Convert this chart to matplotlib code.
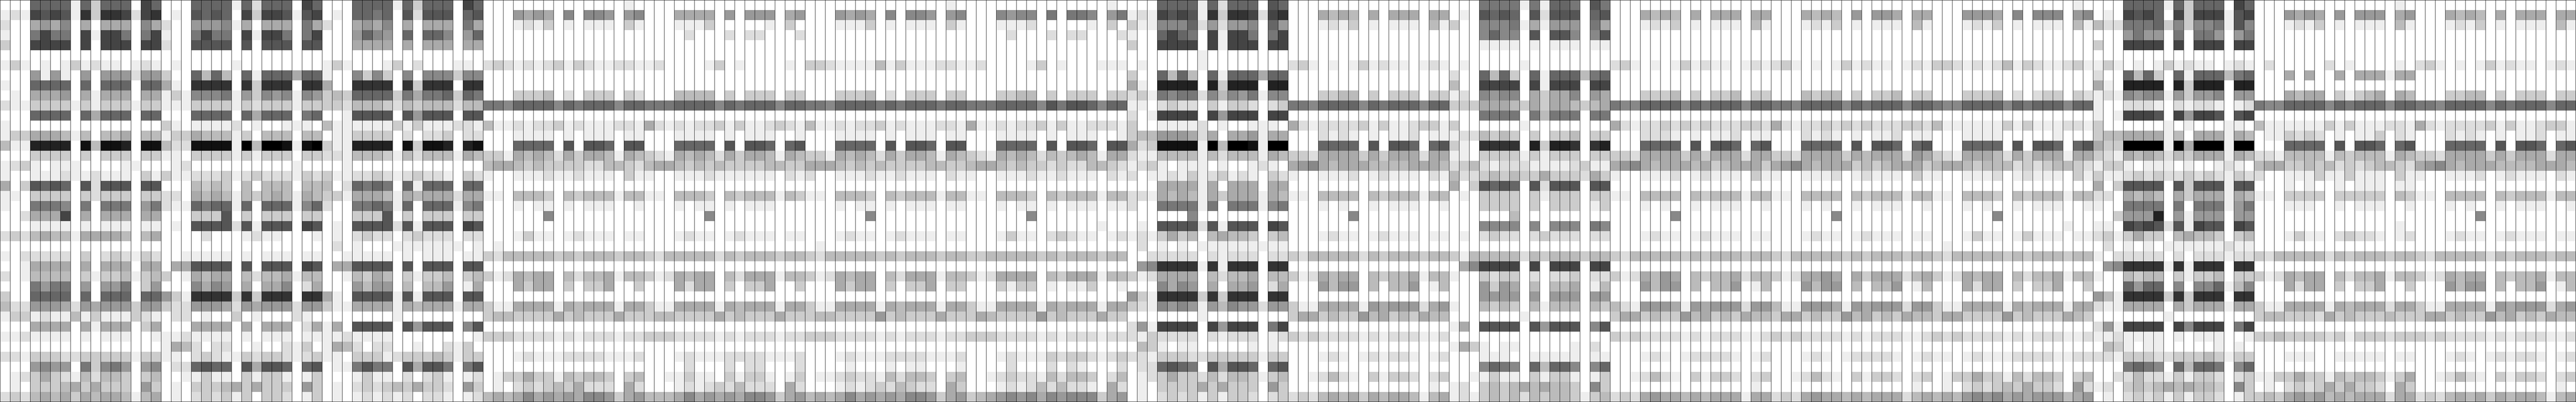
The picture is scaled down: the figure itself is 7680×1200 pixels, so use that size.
import numpy as np
import matplotlib
matplotlib.use("Agg")
import matplotlib.pyplot as plt

# darkness of each cell, hex digit per cell (0 = white, f = black)
# one list per group of 16 columns, 40 rows each
z = "000 0000 0 0 0 000 0 00"
r21 = "000 0007 0 0 0 000 0 00"

block_0 = [
    "000 9999 1 9 3 999 0 b9", "121 baba 1 c 3 ccb 2 bc", "200 5657 0 5 0 555 0 75", "100 8b88 0 b 1 bb8 0 8b",
    "300 bbbb 0 b 0 bbb 0 bb", z, "131 0101 3 1 2 110 1 21", "000 6161 0 6 0 666 2 66",
    "100 9999 0 9 0 999 0 99", "010 5556 0 5 1 555 0 55", "211 3333 1 3 1 333 1 33", "000 9999 0 9 5 999 0 99",
    "100 0000 0 0 0 000 0 00", "133 5554 1 4 0 445 0 44", "411 dddd 0 e 4 eed 0 ee", "000 3333 0 3 0 333 0 33",
    "123 1011 1 0 0 001 1 00", "100 1112 1 1 2 111 0 31", "503 a9a9 0 a 2 aaa 0 aa", "110 3333 0 3 2 333 0 33",
    "100 8887 0 8 0 888 0 68", "002 555b 0 5 0 555 0 55", "000 1111 0 1 0 111 0 11", "232 4544 1 5 5 554 0 45",
    z, "102 2222 0 3 0 232 1 32", "001 5555 0 5 0 555 0 55", "201 4444 0 3 1 334 1 34",
    "000 8688 0 6 0 668 0 36", "300 9999 0 9 0 999 0 99", "422 6665 2 6 5 666 3 66", "133 1211 4 1 3 111 3 21",
    "000 5555 0 5 1 555 0 35", "112 1111 0 1 0 111 0 01", z, "221 3332 2 3 3 333 1 33",
    "000 6766 0 8 3 786 0 67", "012 3532 1 4 2 443 0 34", "010 3334 5 3 5 333 0 63", "232 4545 3 5 4 554 1 45",
]
block_1 = [
    "000 9999 1 9 2 999 0 b9", "010 a9a9 0 b 3 bba 1 ab", "200 6667 1 5 0 555 0 85", "100 8b88 0 b 1 bb8 0 8b",
    "200 aaaa 0 a 0 aaa 0 aa", z, "010 0000 1 0 0 000 0 00", "300 9494 0 9 1 999 5 99",
    "510 cccc 0 c 3 ccc 0 cc", "131 7778 1 6 3 767 1 76", "111 3333 1 3 2 333 1 33", "000 9999 0 9 5 999 0 89",
    "310 1111 2 0 1 001 1 10", "133 5444 1 3 0 444 0 44", "422 eeee 1 f 4 ffe 1 ef", "110 3333 1 3 1 333 0 33",
    "012 0000 0 0 0 000 1 00", "311 2223 1 2 3 222 1 32", "000 4343 0 4 0 444 0 44", "220 5454 1 4 3 454 1 54",
    "211 9899 1 9 0 999 1 79", "000 333a 0 3 0 333 0 33", "010 aaaa 2 a 1 aaa 0 ba", "000 0200 0 1 2 110 0 01",
    z, "001 1111 0 1 0 111 0 11", "055 aaaa 0 a 0 aaa 0 ba", "301 5455 0 4 2 445 1 44",
    "000 7576 0 5 0 557 0 25", "631 cccc 3 c 3 ccc 0 cc", "322 6665 2 6 5 666 2 66", "022 0100 3 0 1 000 2 10",
    "000 5555 0 5 0 555 0 25", "112 1111 0 1 0 111 0 11", "154 2022 0 0 1 002 1 30", "110 2321 1 3 2 332 1 23",
    "022 9a99 0 a 5 aa9 0 9a", "001 1311 0 3 1 331 0 13", "010 3334 5 3 5 333 0 63", "010 2323 1 3 0 332 0 13",
]
block_2 = [
    "000 9999 1 9 3 999 0 b9", "010 9989 0 a 2 aaa 0 9a", "200 5657 0 5 0 555 0 85", "000 6976 0 9 0 997 0 69",
    "000 5555 0 5 0 555 0 55", z, "131 0001 3 0 2 000 1 10", "100 7373 0 7 0 777 3 77",
    "500 cccc 0 c 3 ccc 0 cc", "343 9999 3 8 5 889 3 98", "332 4443 2 4 3 444 2 44", "001 aaaa 0 a 6 aaa 0 aa",
    "411 1111 3 1 3 111 2 21", "011 3333 0 2 0 223 0 22", "311 dddd 0 e 3 eed 0 de", "221 4443 1 4 2 444 1 54",
    "001 0000 0 0 0 000 0 00", "311 2232 1 2 3 221 0 32", "402 9898 0 9 1 999 0 99", "331 5554 1 5 4 555 2 55",
    "200 8898 1 9 0 999 1 78", "000 333a 0 3 0 333 0 33", "010 aaaa 2 a 1 aaa 0 ba", "010 2322 0 2 3 222 0 22",
    "020 1000 1 1 1 111 1 01", "001 1111 0 1 0 111 0 11", "055 aaaa 0 a 0 aaa 0 aa", "001 4354 0 3 1 334 0 34",
    "000 6466 0 4 0 446 0 15", "510 aaaa 1 a 1 aaa 0 aa", "311 5555 1 5 4 555 1 55", "000 0000 1 0 0 000 0 00",
    "150 aaaa 0 a 6 aaa 0 7a", "112 1111 0 0 0 000 0 01", "154 2022 0 0 1 002 1 30", "110 3331 2 3 3 343 1 33",
    "011 8a88 0 a 5 aa8 0 8a", "000 1311 0 2 0 231 0 12", "010 2323 4 3 5 332 0 63", "010 1212 1 2 0 221 0 12",
]
block_3 = [
    "000 0000 0 0 0 000 0 10", "000 6565 0 7 0 776 0 67", "000 1213 0 1 0 111 0 31", z,
    z, z, "232 1212 3 1 3 211 2 21", z,
    z, "000 3334 0 2 0 333 0 32", "887 9999 7 9 8 999 7 99", z,
    "411 2122 3 1 2 111 2 21", "000 1111 0 1 0 111 0 11", "000 9999 0 a 0 aa9 0 aa", "331 5454 2 5 3 554 1 54",
    "455 4343 3 3 3 224 4 32", "100 1112 1 1 2 111 0 31", z, "110 4443 0 4 3 444 1 44",
    "000 1011 0 1 0 111 0 01", r21, z, "000 1311 0 1 2 111 0 11",
    "010 0000 0 0 0 000 0 00", "324 4444 3 4 3 444 3 44", z, "312 5455 0 4 2 445 1 44",
    "000 5355 0 3 0 335 0 03", z, "311 5555 1 5 4 555 1 55", "344 3333 5 3 4 333 5 33",
    z, "333 2222 1 2 1 222 1 22", z, "000 1211 1 2 2 221 1 12",
    z, "013 3533 1 4 3 443 0 34", "010 2323 4 3 5 222 0 52", "454 5756 5 6 5 776 3 56",
]
block_4 = [
    z, "000 5555 0 6 0 666 0 56", "000 1113 0 0 0 001 0 30", "000 0200 0 2 0 220 0 02",
    z, z, "120 0001 3 0 1 000 0 10", z,
    z, "000 4444 0 3 0 333 0 33", "888 9999 7 9 8 999 7 99", z,
    "521 2122 3 1 3 112 3 21", "000 1111 0 1 0 111 0 01", "000 9999 0 a 0 aa9 0 9a", "321 5454 2 5 3 554 1 54",
    "455 4343 4 3 3 334 4 33", "100 1112 1 1 1 111 0 21", z, "110 4443 0 4 3 444 1 43",
    "000 1011 0 1 0 111 0 00", r21, z, "000 1211 0 1 2 111 0 11",
    z, "324 4444 2 4 3 444 3 44", z, "312 5455 0 4 2 555 1 44",
    "000 5255 0 3 0 335 0 03", z, "311 5555 1 5 4 555 1 55", "344 3333 5 3 4 333 5 33",
    z, "333 2222 1 2 1 222 1 22", z, "000 1211 1 2 2 221 1 12",
    "000 0200 0 2 0 220 0 02", "001 1311 0 3 1 331 0 13", "000 1212 3 2 4 222 0 52", "444 5756 5 6 5 776 3 56",
]
block_5 = [
    "000 0000 0 0 0 000 0 10", "000 6565 0 7 0 776 0 67", "000 1113 0 1 0 111 0 31", z,
    z, z, "332 1111 4 1 3 111 2 21", z,
    z, "000 3334 0 2 0 333 0 33", "887 9999 8 9 8 999 8 99", z,
    "411 2122 3 1 2 111 2 21", "000 1111 0 1 0 111 0 11", "000 9999 0 a 0 aa9 0 aa", "331 5454 2 5 3 554 1 54",
    "555 4343 4 3 3 334 4 33", "200 1112 1 1 2 111 0 21", z, "110 4443 0 4 3 444 1 44",
    "000 1011 0 1 0 111 0 11", r21, z, "000 1211 0 1 2 111 0 11",
    "010 0000 0 0 0 000 0 00", "324 4444 3 4 3 444 3 44", z, "312 5455 0 4 2 555 1 44",
    "000 5355 0 3 0 335 0 33", z, "311 5555 1 5 4 555 1 55", "344 3333 6 3 4 333 5 33",
    z, "333 2222 1 2 1 222 1 22", z, "000 1211 1 2 2 221 1 12",
    "000 0100 0 1 0 110 0 01", "011 2322 1 4 2 443 0 34", "000 1212 3 2 4 322 0 53", "454 5756 5 6 5 776 3 56",
]
block_6 = [
    "000 0000 0 0 0 000 0 10", "000 7677 0 8 0 887 0 68", "000 1112 0 0 0 001 0 30", "000 0200 0 2 0 220 0 02",
    z, z, "120 0001 3 0 1 000 1 11", z,
    z, "000 3344 0 3 0 333 0 33", "888 9999 7 a 8 aa9 7 99", z,
    "511 2122 3 1 3 112 2 21", "000 1111 0 1 0 111 0 01", "000 9999 0 a 0 aa9 0 aa", "321 5454 2 4 3 454 1 55",
    "455 4343 3 2 3 224 4 32", "100 1112 1 1 2 111 0 21", z, "110 4443 0 4 3 444 1 44",
    "000 1011 0 1 0 111 0 11", r21, "000 0000 0 0 0 000 1 00", "000 1311 0 2 3 211 0 12",
    z, "334 4444 3 4 3 444 3 44", z, "312 5555 0 4 3 555 1 44",
    "000 3133 0 1 0 113 0 01", z, "311 5555 1 5 4 555 1 55", "354 3333 6 3 4 333 5 33",
    z, "333 2222 1 2 1 222 1 22", z, "000 1211 1 3 2 332 1 23",
    "000 0200 0 2 0 210 0 02", "001 2322 1 4 2 443 0 24", "000 1212 4 2 4 221 0 52", "345 6767 5 7 6 777 3 56",
]
block_7 = [
    "000 9999 1 9 2 999 0 a9", "121 baba 1 c 3 ccb 2 bc", "311 7779 2 6 2 667 0 96", "100 9b98 0 b 1 bb8 0 8b",
    "300 bbbb 0 b 1 bbb 0 bb", "000 0000 1 0 0 000 0 00", "010 0000 1 0 0 000 0 00", "300 9494 0 9 1 999 5 99",
    "510 dddd 0 d 3 ddd 0 dd", "231 8788 2 7 4 768 1 77", "110 2322 0 3 1 332 0 23", "201 bbbb 0 b 6 bbb 0 bb",
    "300 1111 2 0 1 001 1 10", "344 6665 2 5 0 556 1 55", "523 eeee 1 f 4 ffe 1 ff", "211 4444 1 4 2 444 1 54",
    "123 1011 1 0 1 001 2 10", "201 1213 1 2 3 121 0 32", "000 5555 1 5 0 555 0 55", "221 5454 1 5 3 555 1 54",
    "200 8888 1 8 0 888 1 78", r21, "010 aaaa 2 a 1 aaa 0 ba", "121 3534 0 4 5 443 0 34",
    "020 1010 1 1 1 111 1 11", "002 2222 0 2 1 222 0 22", "067 cccc 1 c 1 ccc 0 cc", "312 5555 0 4 2 445 0 44",
    "000 7576 0 5 0 556 0 25", "631 cccc 3 c 3 ccc 0 cc", "321 7676 1 6 4 766 2 66", "000 0000 1 0 0 000 0 00",
    "261 bbbb 0 b 6 bbb 0 8b", "213 2222 0 2 1 222 0 12", "043 1011 0 0 0 001 0 10", "221 3332 2 3 3 333 1 33",
    "022 9a98 0 a 5 aa9 0 9a", "012 3533 2 4 2 443 1 34", "010 3333 5 3 5 333 0 63", "010 2323 1 3 1 332 0 23",
]
block_9 = [
    "000 8888 1 8 1 998 0 a8", "010 a9a9 0 a 2 aaa 0 9a", "300 7778 1 5 1 666 0 85", "000 7977 0 a 0 aa7 0 7a",
    "000 1111 0 1 0 111 0 11", z, "010 0000 1 0 0 000 0 00", "200 9493 0 9 1 999 4 89",
    "400 bbbb 0 b 1 bbb 0 bb", "120 7677 0 5 3 557 0 65", "333 5554 3 5 3 554 3 45", "000 8888 0 8 4 888 0 88",
    "300 0000 1 0 0 000 0 00", "122 4343 0 3 0 334 0 33", "310 cccc 0 d 3 ddc 0 cd", "110 3333 1 3 1 333 0 33",
    "234 2122 2 1 1 112 3 11", "422 3434 3 3 5 333 2 53", "503 a9a9 0 a 2 aaa 0 aa", "010 3333 0 3 1 333 0 33",
    "000 3333 0 3 0 333 0 13", "000 0004 0 0 0 000 0 00", "000 7777 0 7 0 777 0 87", "010 2322 0 2 3 222 0 22",
    z, "314 4444 2 4 3 444 3 44", "057 bbbb 0 b 0 bbb 0 bb", "100 3233 0 2 0 223 0 22",
    "000 6365 0 4 0 445 0 14", "000 6666 0 6 0 666 0 66", "100 4343 0 4 1 444 0 43", "000 0000 1 0 0 000 0 00",
    "150 aaaa 0 a 6 aaa 0 7a", z, "153 1011 0 0 0 001 0 20", "000 1110 0 1 1 111 0 11",
    "000 7987 0 9 4 997 0 79", "001 1311 0 3 1 331 0 13", "120 3434 5 4 5 443 0 73", "121 3434 2 4 3 443 1 34",
]
block_10 = [
    z, "000 5454 0 5 0 555 0 55", "000 1213 0 1 0 111 0 41", z,
    z, z, "231 0101 3 1 2 110 1 21", z,
    z, "000 3334 0 3 0 334 0 33", "877 9999 7 9 8 999 7 99", z,
    "521 2232 3 2 3 222 3 32", "000 2221 0 1 0 112 0 11", "000 9999 0 a 0 aa9 0 9a", "332 5555 3 5 3 555 2 55",
    "567 5455 5 4 5 345 5 53", "100 1112 0 1 2 111 0 31", z, "110 4444 0 4 3 444 1 44",
    "000 1010 0 1 0 111 0 01", r21, z, "000 1211 0 1 2 111 0 11",
    z, "324 4444 3 4 3 444 3 44", z, "312 5465 0 4 3 445 2 44",
    "000 6466 0 4 0 446 0 14", z, "421 6665 1 6 5 666 2 66", "355 3433 6 4 5 343 5 44",
    z, "323 2222 1 2 1 222 1 12", z, "000 1210 1 2 2 221 0 12",
    z, "001 2421 0 3 1 332 0 23", "000 0000 0 0 0 000 0 10", "232 5655 4 5 4 555 1 55",
]
block_11 = [
    z, "000 5454 0 6 0 665 0 55", "000 1213 0 1 0 111 0 41", z,
    z, z, "231 0101 3 1 2 110 1 21", z,
    z, "000 4344 0 3 0 334 0 33", "887 9999 7 9 8 999 7 99", z,
    "521 2232 3 2 3 222 3 32", "000 2121 0 1 0 112 0 11", "000 9999 0 a 0 aa9 0 9a", "332 5555 3 5 4 555 2 65",
    "567 5455 5 3 4 345 5 53", "100 1112 0 1 2 111 0 31", z, "110 4444 0 4 3 444 1 44",
    "000 1010 0 1 0 111 0 01", r21, z, "000 1211 0 1 2 111 0 11",
    z, "324 4444 3 4 3 444 3 44", z, "312 5565 0 5 3 555 2 45",
    "000 6466 0 4 0 446 0 14", z, "411 6665 1 6 5 666 2 66", "355 3433 6 4 5 343 5 44",
    z, "323 2222 1 2 1 222 1 12", z, "000 1210 1 2 2 221 0 12",
    z, "001 2421 0 3 1 332 0 23", "000 0000 0 0 0 000 0 10", "232 5655 4 5 4 555 2 45",
]
block_12 = [
    "000 0000 0 0 0 000 0 10", "000 6665 0 7 0 777 0 67", "000 1213 0 1 0 111 0 41", z,
    z, z, "332 1212 4 1 3 211 2 31", z,
    z, "000 3334 0 2 0 233 0 32", "877 9999 7 9 8 999 7 99", z,
    "411 1111 3 1 3 111 2 21", "000 1111 0 0 0 001 0 00", "000 9999 0 a 0 aa9 0 9a", "321 5554 2 5 3 555 1 55",
    "455 4344 4 2 3 234 4 32", "100 1112 0 1 2 111 0 31", z, "110 4443 0 4 3 444 1 44",
    "000 1010 0 1 0 111 0 01", r21, "000 0000 0 0 0 000 1 00", "000 1311 0 1 3 111 0 11",
    "010 0000 0 0 0 000 0 00", "324 4444 3 4 3 444 3 44", z, "312 5455 0 4 2 445 1 44",
    "000 5255 0 3 0 335 0 03", z, "311 5555 1 5 4 555 1 55", "355 3333 6 3 4 333 5 43",
    z, "323 2222 1 2 1 222 1 12", z, "110 1211 1 2 2 221 1 22",
    z, "013 3533 1 4 2 443 0 34", "010 2323 4 3 5 332 0 62", "454 6767 5 6 5 666 4 56",
]
block_13 = [
    "000 9999 1 9 3 999 0 b9", "010 bab9 0 b 3 bbb 1 ab", "422 8889 3 7 3 778 1 a7", "000 6866 0 8 0 886 0 68",
    "300 bbbb 0 b 0 bbb 0 bb", z, "131 0101 3 1 2 110 1 21", "200 9493 0 9 1 999 4 89",
    "510 dddd 0 d 3 ddd 0 dd", "121 7677 1 6 3 667 0 66", "100 2221 0 2 1 221 0 12", "101 bbba 0 b 6 bba 0 ab",
    "300 0000 1 0 1 000 1 10", "344 5555 1 4 0 555 1 54", "533 ffff 1 f 5 fff 1 ff", "321 5454 2 4 3 555 1 54",
    "133 1011 1 0 1 001 2 10", "311 2323 2 2 3 232 1 32", "503 aaaa 0 a 3 aaa 1 aa", "220 5454 0 5 3 555 1 54",
    "100 8888 0 8 0 888 1 68", "003 666d 0 6 1 666 0 66", "110 baba 2 a 1 baa 0 ba", "231 3533 0 4 5 443 0 34",
    "020 1010 1 1 1 111 2 11", "102 2222 0 2 0 222 1 22", "067 cccc 1 c 1 ccc 0 cc", "100 4344 0 3 1 334 0 33",
    "000 9699 0 7 0 779 1 47", "641 cccc 3 c 3 ccc 0 cc", "211 5555 0 5 3 555 1 55", "000 0000 1 0 0 000 0 00",
    "261 bbbb 0 b 7 bbb 0 8b", "112 1111 0 1 0 111 0 01", "043 1011 0 0 0 001 0 10", "221 3332 2 3 3 343 1 33",
    "000 8987 0 9 4 998 0 79", "002 2422 1 3 1 332 0 23", "120 3434 5 4 5 443 0 73", "010 2323 1 3 1 332 0 13",
]
block_14 = [
    "000 0000 0 0 0 000 0 10", "000 6565 0 6 0 666 0 56", "000 1213 0 1 0 111 0 41", z,
    z, z, "020 0000 2 0 1 000 0 10", "000 5050 0 5 0 555 1 55",
    z, "000 5455 0 3 1 345 0 54", "877 9999 7 9 8 999 7 99", z,
    "411 1111 3 1 3 111 2 21", "011 3232 0 1 0 113 0 21", "000 9999 0 a 0 aa9 0 9a", "221 4444 1 4 3 444 1 54",
    "455 3343 4 2 3 234 4 32", "200 1113 1 1 3 111 0 31", "000 1010 0 1 0 111 0 11", "110 3333 0 3 3 333 0 43",
    "000 1110 0 1 0 111 0 01", z, "000 0000 0 0 0 000 0 10", "000 1311 0 2 3 221 0 12",
    z, "324 4444 2 4 3 444 3 44", z, "312 5455 0 4 2 445 1 44",
    "000 5255 0 3 0 335 0 03", z, "311 5555 1 5 4 555 2 55", "344 3332 5 3 4 333 4 33",
    z, "334 3333 2 3 1 333 2 33", z, "000 1110 0 1 1 111 0 11",
    z, "113 3533 1 4 3 443 1 35", "010 2323 5 3 5 332 0 53", "343 5656 4 5 4 555 2 55",
]
block_15 = [
    z, "000 5454 0 5 0 555 0 55", "000 1213 0 1 0 111 0 41", z,
    z, z, "231 0101 3 1 2 110 1 21", z,
    z, "000 3344 0 3 0 333 0 33", "887 9999 7 9 8 999 7 99", z,
    "521 2222 3 1 3 112 3 31", "000 2121 0 1 0 112 0 11", "000 9999 0 a 0 aa9 0 9a", "332 5555 3 5 3 555 2 55",
    "567 5455 5 4 4 445 5 54", "100 1112 0 1 2 111 0 21", z, "110 4444 0 4 3 444 1 44",
    "000 1010 0 1 0 111 0 01", r21, z, "000 1211 0 1 2 111 0 11",
    z, "324 4444 2 4 3 444 3 44", z, "312 5455 0 4 3 445 1 44",
    "000 6466 0 4 0 446 0 14", z, "311 5555 1 6 5 666 2 56", "355 3433 6 4 5 343 5 44",
    z, "323 2222 1 2 1 222 1 12", z, "000 1210 1 2 1 221 0 12",
    z, "001 2421 0 3 1 332 0 23", "000 0000 0 0 0 000 0 10", "232 4545 3 5 4 554 1 45",
]
# reads the same as the last group in the picture
block_8 = list(block_15)

blocks = [block_0, block_1, block_2, block_3, block_4, block_5, block_6, block_7,
          block_8, block_9, block_10, block_11, block_12, block_13, block_14, block_15]


def parse(block):
    return [[int(c, 16) for c in row.replace(" ", "")] for row in block]


values = np.hstack([np.array(parse(b)) for b in blocks])
n_rows, n_cols = values.shape

fig = plt.figure(figsize=(76.8, 12), dpi=100)
ax = fig.add_axes([0, 0, 1, 1])
ax.pcolormesh(np.arange(n_cols + 1), np.arange(n_rows + 1), values,
              cmap="gray_r", vmin=0, vmax=15, antialiased=False)
ax.vlines(np.arange(1, n_cols), 0, n_rows, color="black", linewidth=0.72, antialiased=False)
ax.set_xlim(0, n_cols)
ax.set_ylim(n_rows, 0)
ax.set_xticks([])
ax.set_yticks([])
for s in ax.spines.values():
    s.set_linewidth(1.44)
    s.set_color("black")
fig.savefig("out.png", dpi=100)
